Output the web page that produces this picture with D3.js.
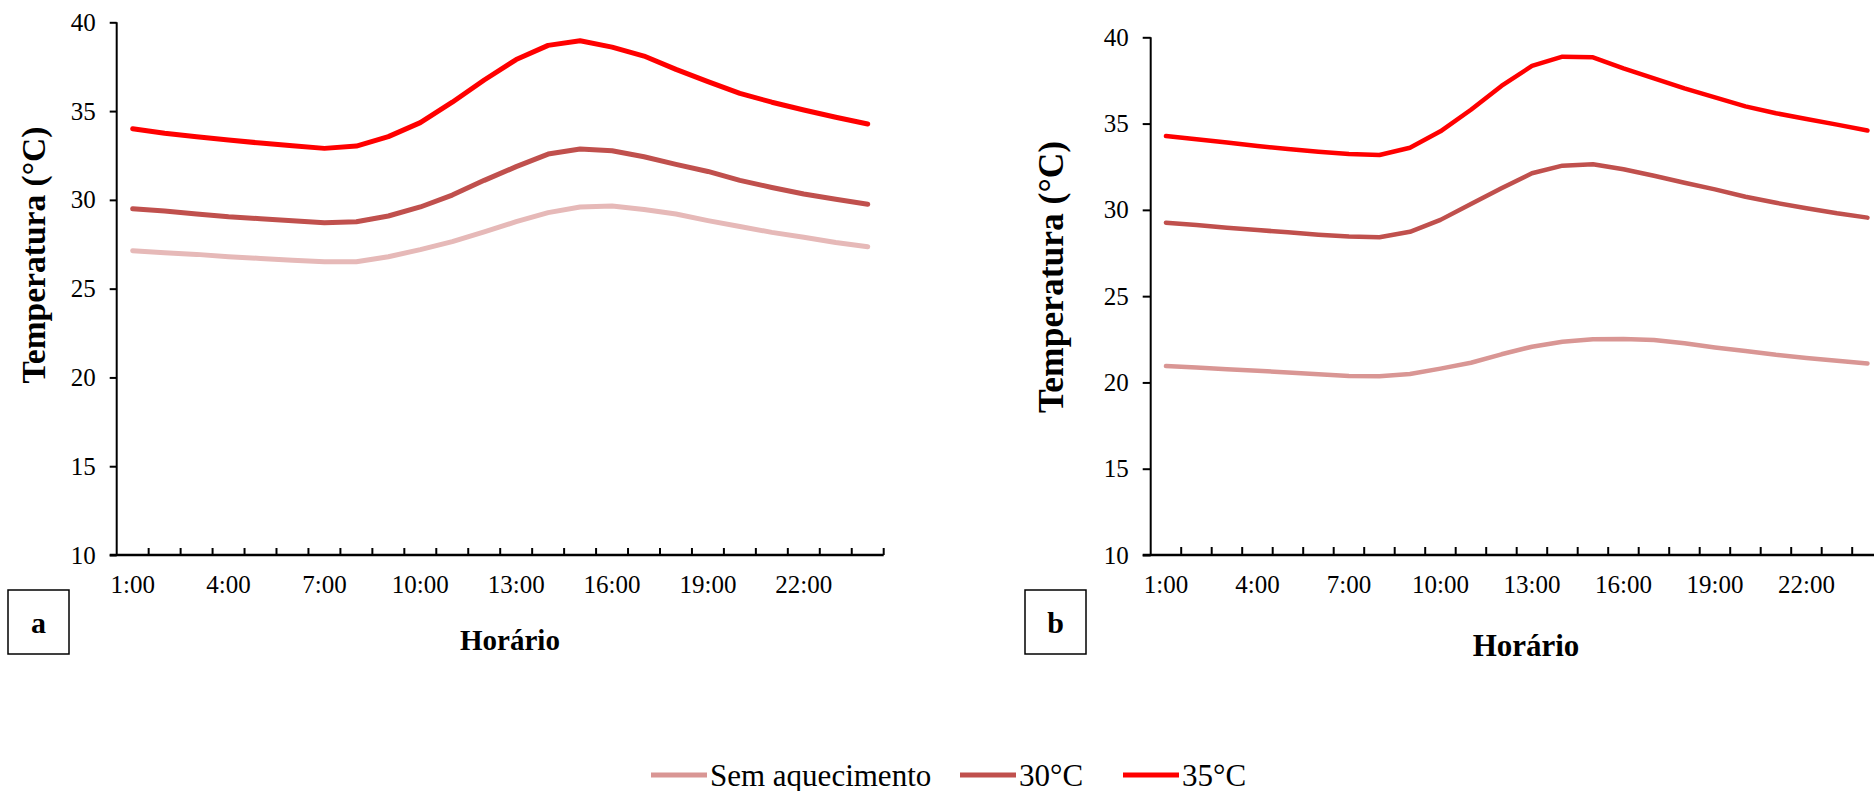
<!DOCTYPE html>
<html>
<head>
<meta charset="utf-8">
<script src="https://cdn.jsdelivr.net/npm/d3@7/dist/d3.min.js"></script>
<style>
  html, body { margin: 0; padding: 0; background: #fff; overflow: hidden; }
  svg { display: block; }
  text { font-family: "Liberation Serif", "Times New Roman", serif; fill: #000; }
</style>
</head>
<body>
<svg id="chart" width="1874" height="791"></svg>
<script>
// ---------- data ----------
const hours = ["1:00","2:00","3:00","4:00","5:00","6:00","7:00","8:00","9:00","10:00","11:00","12:00",
               "13:00","14:00","15:00","16:00","17:00","18:00","19:00","20:00","21:00","22:00","23:00","24:00"];
const hourLabels = ["1:00","4:00","7:00","10:00","13:00","16:00","19:00","22:00"];
const yTicks = [10, 15, 20, 25, 30, 35, 40];
const seriesNames = ["Sem aquecimento", "30°C", "35°C"];

// panel a
const a_semAquecimento = [27.14,27.02,26.93,26.8,26.7,26.6,26.52,26.52,26.8,27.2,27.65,28.2,
                          28.77,29.28,29.6,29.65,29.46,29.2,28.83,28.5,28.17,27.9,27.6,27.36];
const a_30C = [29.5,29.37,29.2,29.05,28.94,28.83,28.71,28.77,29.09,29.6,30.27,31.1,
               31.87,32.58,32.86,32.77,32.43,32.0,31.6,31.1,30.7,30.33,30.03,29.75];
const a_35C = [34.0,33.75,33.55,33.37,33.2,33.05,32.9,33.03,33.56,34.35,35.5,36.75,
               37.9,38.7,38.96,38.6,38.1,37.35,36.66,36.0,35.5,35.06,34.65,34.27];

// panel b
const b_semAquecimento = [20.95,20.86,20.76,20.68,20.57,20.47,20.37,20.36,20.49,20.8,21.14,21.63,
                          22.07,22.36,22.5,22.52,22.46,22.27,22.03,21.82,21.6,21.42,21.26,21.1];
const b_30C = [29.26,29.12,28.97,28.83,28.7,28.56,28.45,28.41,28.73,29.42,30.34,31.25,
               32.12,32.56,32.64,32.35,31.98,31.57,31.19,30.76,30.41,30.09,29.8,29.55];
const b_35C = [34.28,34.09,33.9,33.7,33.53,33.37,33.24,33.18,33.6,34.55,35.8,37.18,
               38.34,38.88,38.84,38.2,37.62,37.04,36.52,36.0,35.6,35.27,34.94,34.6];

// ---------- drawing ----------
const svg = d3.select("#chart");
const FONT = "'Liberation Serif','Times New Roman',serif";

function drawPanel(cfg) {
  const x = d3.scaleBand().domain(hours).range([cfg.x0, cfg.x1]).padding(0);
  const y = d3.scaleLinear().domain([10, 40]).range([cfg.yBottom, cfg.yTop]);
  const g = svg.append("g");

  // lines
  const line = d3.line()
    .x((d, i) => x(hours[i]) + x.bandwidth() / 2)
    .y(d => y(d))
    .curve(d3.curveLinear);
  cfg.series.forEach(s => {
    g.append("path")
      .datum(s.values)
      .attr("fill", "none")
      .attr("stroke", s.color)
      .attr("stroke-width", cfg.lineWidth)
      .attr("stroke-linecap", "round")
      .attr("stroke-linejoin", "round")
      .attr("d", line);
  });

  // y axis
  const yAxis = g.append("g")
    .attr("transform", `translate(${cfg.x0},0)`)
    .call(d3.axisLeft(y).tickValues(yTicks).tickSize(cfg.tickLen).tickPadding(14).tickFormat(d3.format("d")));
  yAxis.select(".domain").attr("stroke", "#000").attr("stroke-width", 2)
    .attr("d", `M0,${cfg.yTop}V${cfg.yBottom}`);
  yAxis.selectAll(".tick line").attr("stroke", "#000").attr("stroke-width", 2);
  yAxis.selectAll(".tick text").attr("font-family", FONT).attr("font-size", 25).attr("fill", "#000");

  // x axis: labels
  const xAxis = g.append("g")
    .attr("transform", `translate(0,${cfg.yBottom})`)
    .call(d3.axisBottom(x).tickValues(hourLabels).tickSize(0).tickPadding(20));
  xAxis.select(".domain").attr("stroke", "#000").attr("stroke-width", 2.5)
    .attr("d", `M${cfg.x0 - cfg.tickLen},0H${cfg.x1}`);
  xAxis.selectAll(".tick text").attr("font-family", FONT).attr("font-size", 25).attr("fill", "#000");

  // x axis boundary ticks (inside, upward)
  const bounds = hours.map(h => x(h)).concat([x.range()[1]]).slice(1);
  g.selectAll(null).data(bounds).enter().append("line")
    .attr("x1", d => d).attr("x2", d => d)
    .attr("y1", cfg.yBottom).attr("y2", cfg.yBottom - cfg.tickLen)
    .attr("stroke", "#000").attr("stroke-width", 2);

  // axis titles
  g.append("text")
    .attr("transform", `translate(${cfg.yLabelX},${cfg.yLabelY}) rotate(-90)`)
    .attr("text-anchor", "middle").attr("dominant-baseline", "central")
    .attr("font-family", FONT).attr("font-weight", "bold").attr("font-size", cfg.yLabelSize)
    .text("Temperatura (°C)");
  g.append("text")
    .attr("x", cfg.xLabelX).attr("y", cfg.xLabelY)
    .attr("text-anchor", "middle").attr("dominant-baseline", "central")
    .attr("font-family", FONT).attr("font-weight", "bold").attr("font-size", cfg.xLabelSize)
    .text("Horário");

  // panel letter box
  g.append("rect")
    .attr("x", cfg.box[0]).attr("y", cfg.box[1]).attr("width", cfg.box[2]).attr("height", cfg.box[3])
    .attr("fill", "none").attr("stroke", "#000").attr("stroke-width", 1.5);
  g.append("text")
    .attr("x", cfg.box[0] + cfg.box[2] / 2).attr("y", cfg.box[1] + cfg.box[3] / 2)
    .attr("text-anchor", "middle").attr("dominant-baseline", "central")
    .attr("font-family", FONT).attr("font-weight", "bold").attr("font-size", 30)
    .text(cfg.letter);
}

drawPanel({
  x0: 116.7, x1: 883.7, yTop: 22.3, yBottom: 555, tickLen: 7, lineWidth: 5,
  series: [
    { values: a_semAquecimento, color: "#E6B9B8" },
    { values: a_30C, color: "#C0504D" },
    { values: a_35C, color: "#FF0000" }
  ],
  yLabelX: 33, yLabelY: 255, yLabelSize: 33.5,
  xLabelX: 510, xLabelY: 640, xLabelSize: 29,
  box: [8, 590, 61, 64], letter: "a"
});

drawPanel({
  x0: 1150.7, x1: 1882.7, yTop: 37.3, yBottom: 555, tickLen: 8, lineWidth: 4.5,
  series: [
    { values: b_semAquecimento, color: "#D99694" },
    { values: b_30C, color: "#C0504D" },
    { values: b_35C, color: "#FF0000" }
  ],
  yLabelX: 1051, yLabelY: 277, yLabelSize: 35.5,
  xLabelX: 1526, xLabelY: 645, xLabelSize: 31,
  box: [1025, 590, 61, 64], letter: "b"
});

// legend
const legendColors = ["#D99694", "#C0504D", "#FF0000"];
const legendX = [651, 960, 1123];
const legendY = 775;
const lg = svg.append("g");
seriesNames.forEach((name, i) => {
  lg.append("line")
    .attr("x1", legendX[i]).attr("x2", legendX[i] + 56)
    .attr("y1", legendY).attr("y2", legendY)
    .attr("stroke", legendColors[i]).attr("stroke-width", 5);
  lg.append("text")
    .attr("x", legendX[i] + 59).attr("y", legendY)
    .attr("dominant-baseline", "central")
    .attr("font-family", FONT).attr("font-size", 31)
    .text(name);
});
</script>
</body>
</html>
